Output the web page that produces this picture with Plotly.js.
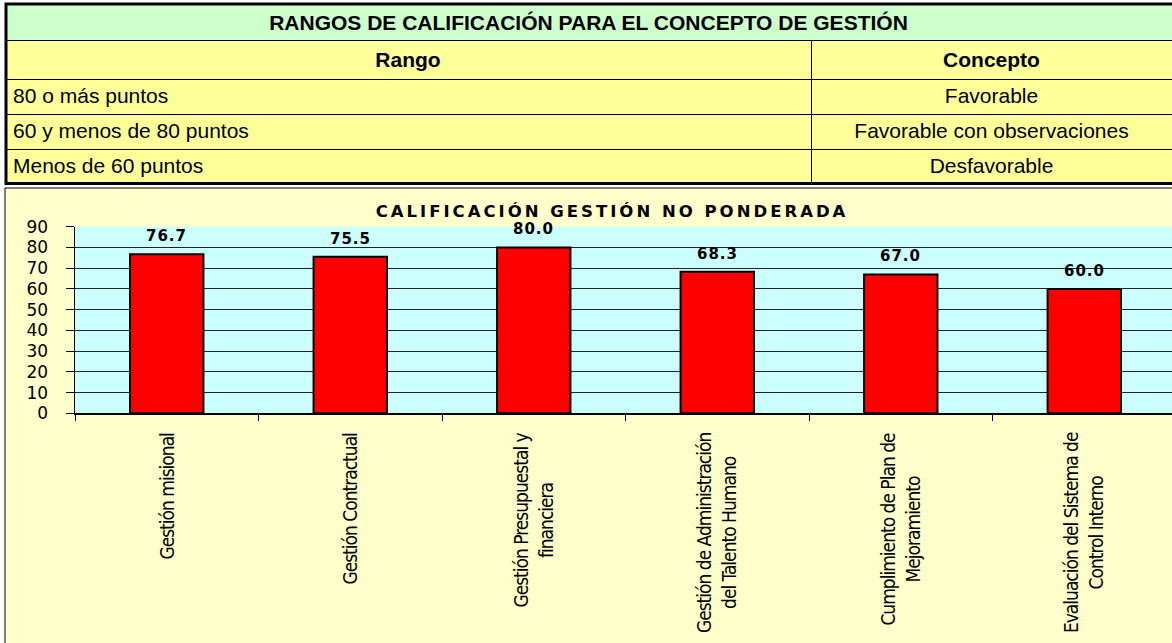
<!DOCTYPE html>
<html>
<head>
<meta charset="utf-8">
<script src="https://cdn.plot.ly/plotly-3.0.1.min.js"></script>
<style>
  html, body { margin: 0; padding: 0; background: #ffffff; }
  #chart { width: 1172px; height: 643px; }
  #chart .gtitle { letter-spacing: 3px; }
</style>
</head>
<body>
<div id="chart"></div>
<script>
// ---- data ----
const tableTitle = 'RANGOS DE CALIFICACIÓN PARA EL CONCEPTO DE GESTIÓN';
const tableHeaders = ['Rango', 'Concepto'];
const rangos = ['80 o más puntos', '60 y menos de 80 puntos', 'Menos de 60 puntos'];
const conceptos = ['Favorable', 'Favorable con observaciones', 'Desfavorable'];

const chartTitle = 'CALIFICACIÓN GESTIÓN NO PONDERADA';
const categories = [
  'Gestión misional',
  'Gestión Contractual',
  'Gestión Presupuestal y<br>financiera',
  'Gestión de Administración<br>del Talento Humano',
  'Cumplimiento de Plan de<br>Mejoramiento',
  'Evaluación del Sistema de<br>Control Interno'
];
const values = [76.7, 75.5, 80.0, 68.3, 67.0, 60.0];
const yTicks = [0, 10, 20, 30, 40, 50, 60, 70, 80, 90];

// ---- layout helpers (pixel -> paper) ----
const W = 1172, H = 643;
const fx = x => x / W;
const fy = y => 1 - y / H;

const tableFont = {family: 'Liberation Sans, Arial, sans-serif', size: 21, color: '#000'};

const titleTable = {
  type: 'table',
  domain: {x: [fx(5), 1], y: [fy(43), fy(3)]},
  columnwidth: [1],
  header: {
    values: [['<b>' + tableTitle + '</b>']],
    height: 38,
    align: 'center',
    fill: {color: '#CCFFCC'},
    line: {color: '#000', width: 1},
    font: tableFont
  },
  cells: {
    values: [['']],
    height: 1,
    fill: {color: '#000'},
    line: {color: '#000', width: 0},
    font: {size: 1}
  }
};

const rangeTable = {
  type: 'table',
  domain: {x: [fx(5), 1], y: [fy(185), fy(40)]},
  columnwidth: [806, 361],
  header: {
    values: tableHeaders.map(h => '<b>' + h + '</b>'),
    height: 37,
    align: 'center',
    fill: {color: '#FFFF99'},
    line: {color: '#000', width: 1},
    font: tableFont
  },
  cells: {
    values: [rangos, conceptos],
    height: 35,
    align: ['left', 'center'],
    fill: {color: '#FFFF99'},
    line: {color: '#000', width: 1},
    font: tableFont
  }
};

const bars = {
  type: 'bar',
  x: categories,
  y: values,
  width: 0.4,
  marker: {color: '#FF0000', line: {color: '#000', width: 2}},
  hoverinfo: 'x+y',
  xaxis: 'x', yaxis: 'y'
};

const valueLabels = categories.map((c, i) => ({
  x: c, y: values[i], xref: 'x', yref: 'y',
  text: '<span style="letter-spacing:1px">' + values[i].toFixed(1) + '</span>',
  showarrow: false, yanchor: 'bottom', xanchor: 'center', yshift: 7,
  font: {family: 'DejaVu Sans, sans-serif', size: 15, weight: 'bold', color: '#000'}
}));

const catLabels = categories.map(c => ({
  x: c, y: 0, xref: 'x', yref: 'y',
  text: c.split('<br>').map(l => '<span style="letter-spacing:-1px">' + l + '</span>').join('<br>'),
  textangle: -90, align: 'center',
  showarrow: false, yanchor: 'top', xanchor: 'center', yshift: -17,
  font: {family: 'Liberation Sans Narrow, DejaVu Sans Condensed, sans-serif', size: 19, color: '#000'}
}));

const layout = {
  width: W, height: H,
  margin: {l: 0, r: 0, t: 0, b: 0, pad: 0},
  paper_bgcolor: '#FFFFFF',
  plot_bgcolor: 'rgba(0,0,0,0)',
  showlegend: false,
  title: {
    text: chartTitle,
    x: fx(612), xref: 'paper', xanchor: 'center',
    y: fy(211), yref: 'paper', yanchor: 'middle',
    font: {family: 'DejaVu Sans, sans-serif', size: 16.5, weight: 'bold', color: '#000'}
  },
  xaxis: {
    type: 'category',
    domain: [fx(75), 1],
    range: [-0.5, 5.478],
    showgrid: false,
    showline: true, linecolor: '#000', linewidth: 1.5,
    ticks: 'outside', tickson: 'boundaries', ticklen: 6, tickcolor: '#000', tickwidth: 1,
    showticklabels: false,
    fixedrange: true
  },
  yaxis: {
    domain: [fy(413.3), fy(226.7)],
    range: [0, 90],
    tickvals: yTicks,
    showgrid: true, gridcolor: '#222', gridwidth: 1,
    zeroline: false,
    showline: true, linecolor: '#000', linewidth: 1.5,
    ticks: 'outside', ticklen: 8, tickcolor: '#000', tickwidth: 1,
    ticklabelstandoff: 14,
    tickfont: {family: 'DejaVu Sans, sans-serif', size: 17, color: '#000'},
    fixedrange: true
  },
  shapes: [
    // chart frame (light yellow)
    {type: 'rect', xref: 'paper', yref: 'paper', x0: fx(5), x1: 1.01, y0: -0.01, y1: fy(188),
     fillcolor: '#FFFFCC', line: {color: '#000', width: 1}, layer: 'below'},
    // plotting area (light cyan)
    {type: 'rect', xref: 'x domain', yref: 'y domain', x0: 0, x1: 1, y0: 0, y1: 1,
     fillcolor: '#CCFFFF', line: {width: 0}, layer: 'below'},
    // thick outer border of table
    {type: 'rect', xref: 'paper', yref: 'paper', x0: fx(6), x1: 1.01, y0: fy(183.5), y1: fy(4),
     fillcolor: 'rgba(0,0,0,0)', line: {color: '#000', width: 3}, layer: 'above'}
  ],
  annotations: valueLabels.concat(catLabels)
};

Plotly.newPlot('chart', [bars, titleTable, rangeTable], layout, {displayModeBar: false, staticPlot: true});
</script>
</body>
</html>
